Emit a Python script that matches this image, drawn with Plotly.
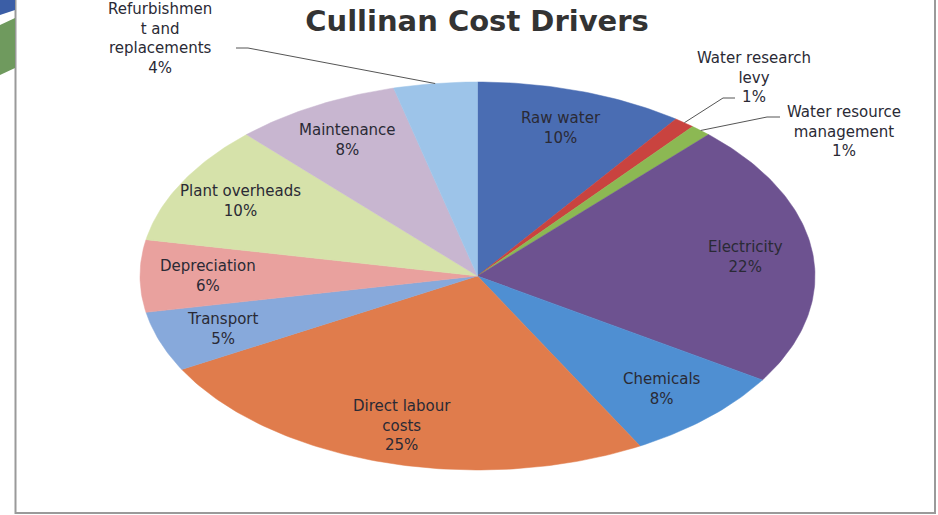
import numpy as np
import plotly.graph_objects as go

# ── Data ────────────────────────────────────────────────────────────────
categories = ["Raw water", "Water research levy", "Water resource management",
              "Electricity", "Chemicals", "Direct labour costs", "Transport",
              "Depreciation", "Plant overheads", "Maintenance",
              "Refurbishment and replacements"]
label_text = ["Raw water", "Water research<br>levy", "Water resource<br>management",
              "Electricity", "Chemicals", "Direct labour<br>costs", "Transport",
              "Depreciation", "Plant overheads", "Maintenance",
              "Refurbishmen<br>t and<br>replacements"]
shares = [10, 1, 1, 22, 8, 25, 5, 6, 10, 8, 4]

colors = ["#4a6db3", "#c9433f", "#8cb853", "#6d5290", "#4f8fd2", "#e07c4c",
          "#87a9db", "#e9a19e", "#d6e2aa", "#c8b6d0", "#9dc4e9"]

# pie geometry in pixels: centre and semi-axes of the ellipse
CX, CY, RX, RY = 477.5, 276, 337.5, 194
W, H = 938, 515


def px(x, y):
    """pixel position -> unit-pie coordinates"""
    return (x - CX) / RX, (CY - y) / RY


# labels outside the pie: text centre and leader start (pixels)
outside = {
    1:  dict(text=(754, 77), anchor=[(735, 98), (723, 98)]),
    2:  dict(text=(844, 131), anchor=[(780, 117), (767, 117)]),
    10: dict(text=(160, 38), anchor=[(236, 48), (248, 48)]),
}

LABEL_FONT = dict(family="DejaVu Sans", size=15, color="#2a2a35")

# ── Build the (elliptical) pie on plain axes ────────────────────────────
fig = go.Figure()
total = float(sum(shares))
cum = np.concatenate([[0], np.cumsum(shares)]) / total
annotations = []

for i, name in enumerate(categories):
    t0, t1 = 2 * np.pi * cum[i], 2 * np.pi * cum[i + 1]
    t = np.linspace(t0, t1, max(int(shares[i] * 4), 6))
    xs = np.concatenate([[0], np.sin(t), [0]])
    ys = np.concatenate([[0], np.cos(t), [0]])
    fig.add_trace(go.Scatter(
        x=xs, y=ys, mode="lines", fill="toself", fillcolor=colors[i],
        line=dict(color=colors[i], width=0.5), name=name,
        hoverinfo="text", text=f"{name}: {shares[i]}%", showlegend=False))

    mid = (t0 + t1) / 2
    txt = f"{label_text[i]}<br>{shares[i]}%"
    if i in outside:
        o = outside[i]
        a0, a1 = px(*o["anchor"][0]), px(*o["anchor"][1])
        lx = [a0[0], a1[0], np.sin(mid)]
        ly = [a0[1], a1[1], np.cos(mid)]
        fig.add_trace(go.Scatter(x=lx, y=ly, mode="lines",
                                 line=dict(color="#555555", width=1),
                                 hoverinfo="skip", showlegend=False))
        tx, ty = px(*o["text"])
        annotations.append(dict(x=tx, y=ty, text=txt, showarrow=False,
                                font=LABEL_FONT, xref="x", yref="y"))
    else:
        r = 0.8
        annotations.append(dict(x=r * np.sin(mid), y=r * np.cos(mid), text=txt,
                                showarrow=False, font=LABEL_FONT,
                                xref="x", yref="y"))

# page frame and the decorative swoosh on the left edge
shapes = [
    dict(type="rect", xref="paper", yref="paper",
         x0=15.5 / W, x1=935 / W, y0=1 - 513 / H, y1=1.05,
         line=dict(color="#9a9a9a", width=2)),
    dict(type="path", xref="paper", yref="paper",
         path=f"M 0 1 L {15/W} 1 L {15/W} {1-10/H} L 0 {1-15/H} Z",
         fillcolor="#3b5ea6", line=dict(width=0)),
    dict(type="path", xref="paper", yref="paper",
         path=(f"M 0 {1-25/H} L {15/W} {1-18/H} L {15/W} {1-68/H} "
               f"L 0 {1-75/H} Z"),
         fillcolor="#6f9a5e", line=dict(width=0)),
]

fig.update_layout(
    width=W, height=H,
    title=dict(text="<b>Cullinan Cost Drivers</b>", x=477 / W, xanchor="center",
               y=1 - 21 / H, yanchor="middle",
               font=dict(family="DejaVu Sans", size=29, color="#333333")),
    paper_bgcolor="white", plot_bgcolor="white",
    margin=dict(l=0, r=0, t=0, b=0),
    annotations=annotations, shapes=shapes,
    showlegend=False,
)
fig.update_xaxes(range=[-CX / RX, (W - CX) / RX], visible=False, fixedrange=True)
fig.update_yaxes(range=[(CY - H) / RY, CY / RY], visible=False, fixedrange=True)

fig.write_html("out.html", config={"displayModeBar": False},
               post_script="document.body.style.margin='0';")
